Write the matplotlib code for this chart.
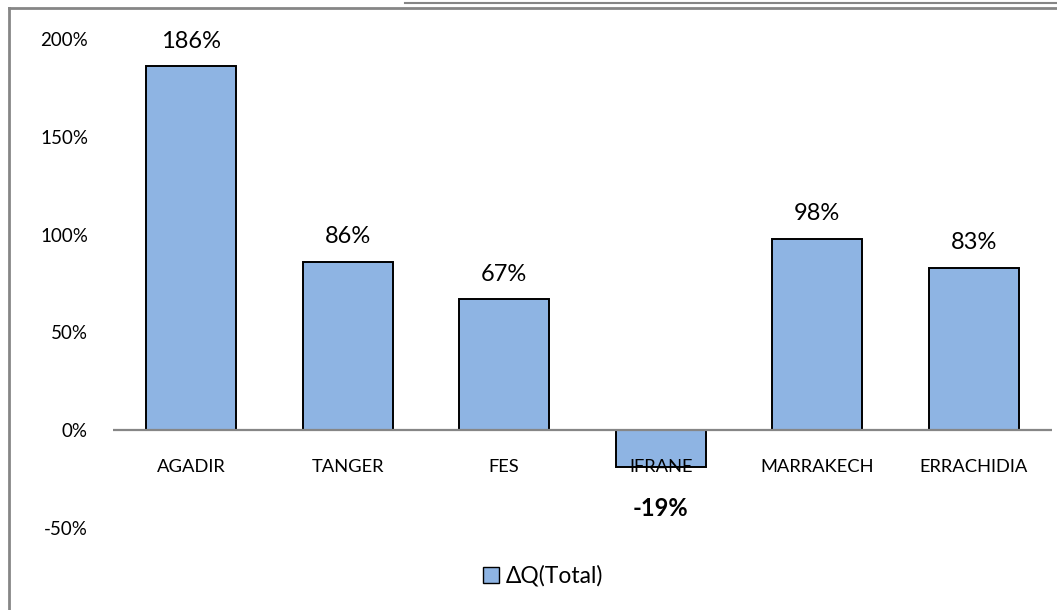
import matplotlib
matplotlib.use("Agg")
import matplotlib.pyplot as plt
from matplotlib.lines import Line2D
from matplotlib.patches import Rectangle
import numpy as np

# ---- data ------------------------------------------------------------------
CITIES = ["AGADIR", "TANGER", "FES", "IFRANE", "MARRAKECH", "ERRACHIDIA"]
DELTA_Q = [186, 86, 67, -19, 98, 83]          # percent change in total Q
YTICKS = [-50, 0, 50, 100, 150, 200]
SERIES_NAME = "ΔQ(Total)"

BAR_COLOR = "#8EB4E3"
AXIS_GRAY = "#868686"

plt.rcParams["font.family"] = ["Lato", "DejaVu Sans"]

fig = plt.figure(figsize=(10.57, 6.10), dpi=100)
ax = fig.add_axes([113 / 1057, 1 - 528 / 610, 939 / 1057, (528 - 39) / 610])

x = np.arange(len(CITIES))
ax.bar(x, DELTA_Q, width=0.575, color=BAR_COLOR, edgecolor="black",
       linewidth=1.4, zorder=2)

ax.set_xlim(-0.5, len(CITIES) - 0.5)
ax.set_ylim(min(YTICKS), max(YTICKS))
ax.set_yticks(YTICKS)
ax.set_yticklabels([f"{v}%" for v in YTICKS], fontsize=13.5)
ax.tick_params(axis="y", length=0, pad=18)
ax.set_xticks([])
for side in ("top", "right", "left", "bottom"):
    ax.spines[side].set_visible(False)
ax.axhline(0, color=AXIS_GRAY, lw=1.6, zorder=3)

# category names sit at a fixed distance under the zero line
for xi, name in zip(x, CITIES):
    ax.annotate(name, xy=(xi, 0), xytext=(0, -37), textcoords="offset pixels",
                ha="center", va="center", fontsize=13.2, zorder=4)

# value labels: above positive bars, bold below the negative one
for xi, v in zip(x, DELTA_Q):
    if v >= 0:
        ax.annotate(f"{v}%", xy=(xi, v), xytext=(0, 25),
                    textcoords="offset pixels", ha="center", va="center",
                    fontsize=17)
    else:
        ax.annotate(f"{v}%", xy=(xi, v), xytext=(0, -41),
                    textcoords="offset pixels", ha="center", va="center",
                    fontsize=17, fontweight="bold")

handle = Rectangle((0, 0), 1, 1, facecolor=BAR_COLOR, edgecolor="black",
                   linewidth=1.0)
fig.legend([handle], [SERIES_NAME], loc="center", frameon=False,
           bbox_to_anchor=(543 / 1057, 1 - 576 / 610), fontsize=16.5,
           handlelength=0.7, handleheight=0.7, handletextpad=0.3)

# chart area frame
fig.add_artist(Line2D([9 / 1057, 9 / 1057], [0, 1 - 8 / 610],
                      transform=fig.transFigure, color=AXIS_GRAY, lw=2))
fig.add_artist(Line2D([9 / 1057, 1], [1 - 8 / 610, 1 - 8 / 610],
                      transform=fig.transFigure, color=AXIS_GRAY, lw=2))
fig.add_artist(Line2D([405 / 1057, 1], [1 - 2.5 / 610, 1 - 2.5 / 610],
                      transform=fig.transFigure, color=AXIS_GRAY, lw=1.5))

fig.savefig("out.png", dpi=100)
